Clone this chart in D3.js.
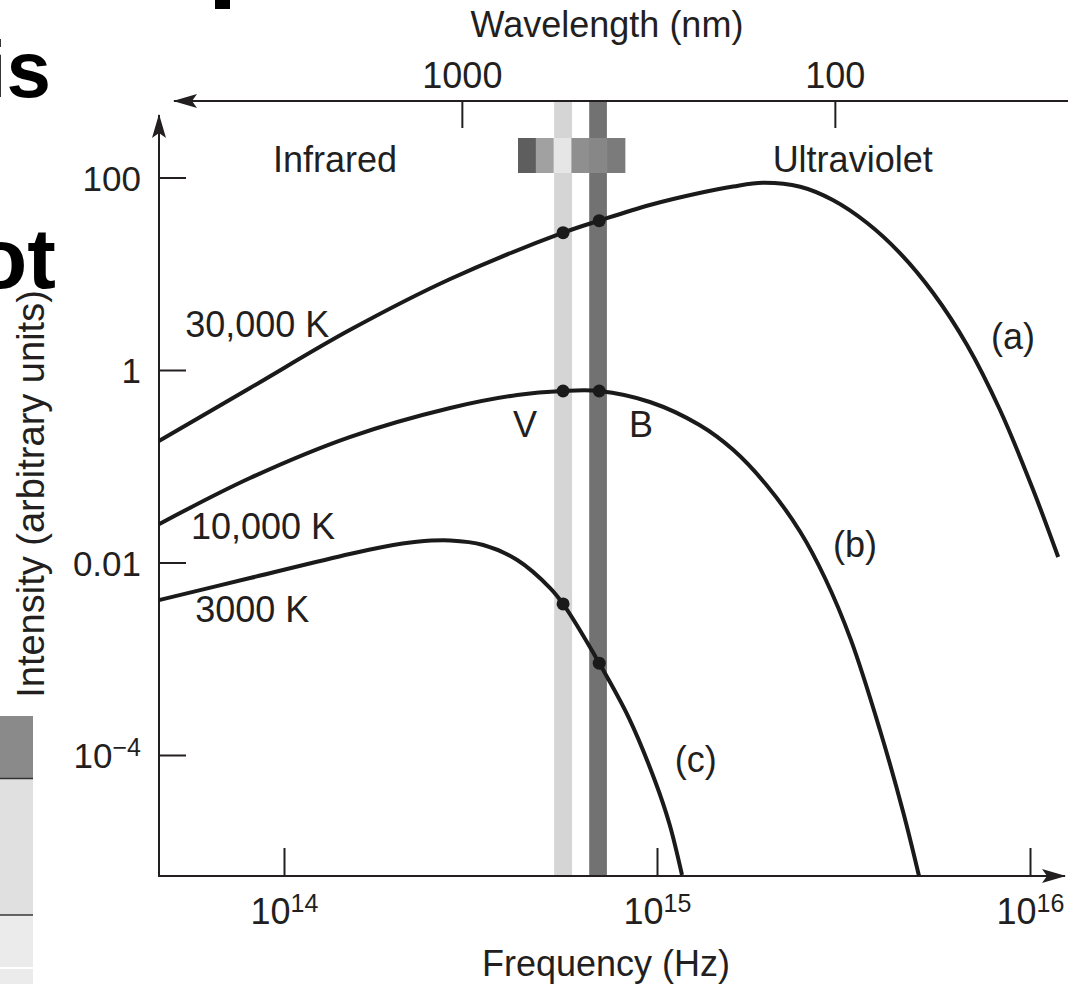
<!DOCTYPE html>
<html>
<head>
<meta charset="utf-8">
<script src="https://cdn.jsdelivr.net/npm/d3@7"></script>
<style>
  html, body { margin: 0; padding: 0; background: #fff; }
  svg { display: block; font-family: "Liberation Sans", Arial, Helvetica, sans-serif; }
</style>
</head>
<body>
<div id="chart"></div>
<script>
// frequencies in Hz, intensity in arbitrary units
const freqA = [4.62e13, 8.11e13, 1.50e14, 2.79e14, 5.60e14, 7.00e14, 9.57e14, 1.30e15, 1.60e15, 1.92e15, 2.42e15, 2.96e15, 3.66e15, 4.48e15, 5.50e15, 6.78e15, 8.31e15, 1.02e16, 1.19e16];
const intA  = [0.183, 0.65, 2.6, 8.82, 26.7, 35.6, 51.8, 69.0, 80.6, 88.1, 80.2, 58.4, 33.7, 16.4, 6.31, 1.82, 0.384, 0.0566, 0.0114];

const freqB = [4.62e13, 8.11e13, 1.50e14, 2.79e14, 4.22e14, 5.60e14, 7.00e14, 9.57e14, 1.30e15, 1.60e15, 1.97e15, 2.42e15, 2.82e15, 3.31e15, 3.96e15, 4.57e15, 5.04e15];
const intB  = [0.025, 0.0755, 0.201, 0.403, 0.55, 0.605, 0.605, 0.465, 0.268, 0.148, 0.0631, 0.0209, 6.9e-3, 1.57e-3, 1.82e-4, 2.56e-5, 5.53e-6];

const freqC = [4.62e13, 8.11e13, 1.50e14, 1.84e14, 2.27e14, 2.79e14, 3.42e14, 4.22e14, 5.17e14, 5.60e14, 7.00e14, 8.41e14, 9.88e14, 1.08e15, 1.167e15];
const intC  = [4.07e-3, 6.9e-3, 0.01226, 0.01449, 0.0164, 0.01693, 0.0152, 0.01062, 5.43e-3, 3.71e-3, 9.0e-4, 2.42e-4, 5.37e-5, 1.92e-5, 5.66e-6];

// V and B filter bands (Hz) and the points marked on each curve
const bandFreq = [5.6e14, 7.0e14];
const bandEdges = [[5.30e14, 5.92e14], [6.58e14, 7.34e14]];
const dotsA = [26.7, 35.6];
const dotsB = [0.605, 0.605];
const dotsC = [3.71e-3, 9.0e-4];

// little visible-spectrum strip (Hz)
const specEdges = [4.24e14, 8.2e14];
const specGrays = ["#5e5e5e", "#a1a1a1", "#e6e6e6", "#8f8f8f", "#878787", "#7b7b7b"];

const freqTicks = [1e14, 1e15, 1e16];
const freqTickExp = ["14", "15", "16"];
const intTicks = [1e-4, 0.01, 1, 100];
const wlTicks = [1000, 100];

const C_NM = 2.998e17; // speed of light in nm/s

const curves = [
    {freq: freqA, val: intA, dots: dotsA, name: "30,000 K", tag: "(a)", nameAt: [5.5e13, 2.2], tagAt: [7.96e15, 1.65]},
    {freq: freqB, val: intB, dots: dotsB, name: "10,000 K", tag: "(b)", nameAt: [5.7e13, 0.01754], tagAt: [3.0e15, 0.0114]},
    {freq: freqC, val: intC, dots: dotsC, name: "3000 K", tag: "(c)", nameAt: [5.85e13, 2.41e-3], tagAt: [1.13e15, 6.65e-5]}
];

const W = 1082, H = 984;
const ink = "#231f20";
const frame = {left: 159, bottom: 876, right: 1065, top: 115, wlY: 101, wlLeft: 174, wlRight: 1068};

const x = d3.scaleLog().domain([1e14, 1e16]).range([284, 1030]);
const y = d3.scaleLog().domain([1e-4, 100]).range([755, 177.5]);
const xw = d3.scaleLog().domain([1000, 100]).range([x(C_NM / 1000), x(C_NM / 100)]);

const svg = d3.select("#chart").append("svg")
    .attr("width", W)
    .attr("height", H)
    .attr("viewBox", [0, 0, W, H]);

svg.append("rect").attr("width", W).attr("height", H).attr("fill", "#fff");

svg.append("defs").append("marker")
    .attr("id", "arrow")
    .attr("viewBox", "0 0 24 14")
    .attr("refX", 23)
    .attr("refY", 7)
    .attr("markerWidth", 24)
    .attr("markerHeight", 14)
    .attr("markerUnits", "userSpaceOnUse")
    .attr("orient", "auto")
    .append("path")
    .attr("d", "M0,0 L24,7 L0,14 L5,7 Z")
    .attr("fill", ink);

// bits of the slide behind the figure (cropped at the left edge)
const slide = svg.append("g").attr("fill", "#000").attr("font-weight", "bold").attr("font-size", 80);
slide.append("text").attr("x", 51).attr("y", 97).attr("text-anchor", "end").text("is");
slide.append("text").attr("x", 56).attr("y", 288).attr("font-size", 86).attr("text-anchor", "end").text("ot");
slide.append("rect").attr("x", 215).attr("y", 0).attr("width", 15).attr("height", 9);
const tbl = svg.append("g");
tbl.append("rect").attr("x", 0).attr("y", 716).attr("width", 33).attr("height", 62).attr("fill", "#8a8a8a");
tbl.append("rect").attr("x", 0).attr("y", 779).attr("width", 33).attr("height", 136).attr("fill", "#e0e0e0");
tbl.append("rect").attr("x", 0).attr("y", 916).attr("width", 33).attr("height", 51).attr("fill", "#ebebeb");
tbl.append("rect").attr("x", 0).attr("y", 969).attr("width", 33).attr("height", 15).attr("fill", "#ebebeb");
tbl.append("line").attr("x1", 0).attr("x2", 33).attr("y1", 778.5).attr("y2", 778.5).attr("stroke", "#333").attr("stroke-width", 1.5);
tbl.append("line").attr("x1", 0).attr("x2", 33).attr("y1", 915).attr("y2", 915).attr("stroke", "#333").attr("stroke-width", 1.5);

// V and B bands
svg.append("g")
    .selectAll("rect")
    .data(bandEdges)
    .join("rect")
    .attr("x", d => x(d[0]))
    .attr("width", d => x(d[1]) - x(d[0]))
    .attr("y", frame.wlY)
    .attr("height", frame.bottom - frame.wlY)
    .attr("fill", (d, i) => i === 0 ? "#d5d5d5" : "#727272");

// spectrum strip, cells equal in log frequency
const cellEdge = i => specEdges[0] * Math.pow(specEdges[1] / specEdges[0], i / specGrays.length);
svg.append("g")
    .selectAll("rect")
    .data(specGrays)
    .join("rect")
    .attr("x", (d, i) => x(cellEdge(i)))
    .attr("width", (d, i) => x(cellEdge(i + 1)) - x(cellEdge(i)) + 0.5)
    .attr("y", 138)
    .attr("height", 35)
    .attr("fill", d => d);

// axes
const axisG = svg.append("g").attr("stroke", ink).attr("stroke-width", 2).attr("fill", "none");
axisG.append("line")
    .attr("x1", frame.left).attr("y1", frame.bottom)
    .attr("x2", frame.right).attr("y2", frame.bottom)
    .attr("marker-end", "url(#arrow)");
axisG.append("line")
    .attr("x1", frame.left).attr("y1", frame.bottom + 1)
    .attr("x2", frame.left).attr("y2", frame.top)
    .attr("marker-end", "url(#arrow)");
axisG.append("line")
    .attr("x1", frame.wlRight).attr("y1", frame.wlY)
    .attr("x2", frame.wlLeft).attr("y2", frame.wlY)
    .attr("marker-end", "url(#arrow)");

function styleAxis(g) {
    g.select(".domain").remove();
    g.selectAll(".tick line").attr("stroke", ink).attr("stroke-width", 2);
    g.selectAll(".tick text").attr("fill", ink).attr("font-size", 35);
}

// frequency axis
const xAxis = svg.append("g")
    .attr("transform", `translate(0,${frame.bottom})`)
    .call(d3.axisBottom(x).tickValues(freqTicks).tickSizeInner(-28).tickSizeOuter(0).tickPadding(0).tickFormat(""))
    .call(styleAxis);
xAxis.selectAll(".tick text").remove();
const xLab = xAxis.selectAll(".tick")
    .append("text")
    .attr("y", 48)
    .attr("text-anchor", "middle")
    .attr("fill", ink)
    .attr("font-size", 36);
xLab.append("tspan").text("10");
xLab.append("tspan").attr("font-size", 25).attr("dy", -12).text((d, i) => freqTickExp[i]);

// intensity axis
const yAxis = svg.append("g")
    .attr("transform", `translate(${frame.left},0)`)
    .call(d3.axisLeft(y).tickValues(intTicks).tickSizeInner(-27).tickSizeOuter(0).tickPadding(18)
        .tickFormat(d => d >= 1 ? d3.format("d")(d) : d === 0.01 ? "0.01" : ""))
    .call(styleAxis);
yAxis.selectAll(".tick text").attr("dy", "0.36em");
yAxis.selectAll(".tick")
    .filter(d => d === 1e-4)
    .select("text")
    .call(t => {
        t.append("tspan").text("10");
        t.append("tspan").attr("font-size", 25).attr("dy", -12).text("\u22124");
    });

// wavelength axis
svg.append("g")
    .attr("transform", `translate(0,${frame.wlY})`)
    .call(d3.axisTop(xw).tickValues(wlTicks).tickSizeInner(-27).tickSizeOuter(0).tickPadding(13).tickFormat(d3.format("d")))
    .call(styleAxis)
    .selectAll(".tick text").attr("dy", 0).attr("font-size", 36);

// titles
const titles = svg.append("g").attr("fill", ink).attr("font-size", 36).attr("text-anchor", "middle");
titles.append("text").attr("x", 607).attr("y", 37).text("Wavelength (nm)");
titles.append("text").attr("x", 606).attr("y", 976).text("Frequency (Hz)");
titles.append("text")
    .attr("transform", "translate(44,494) rotate(-90)")
    .attr("font-size", 38)
    .text("Intensity (arbitrary units)");

// region labels
const regions = svg.append("g").attr("fill", ink).attr("font-size", 36);
regions.append("text").attr("x", x(9.46e13) - 2).attr("y", y(114)).text("Infrared");
regions.append("text").attr("x", x(2.08e15) - 3).attr("y", y(114)).text("Ultraviolet");

// curves
const line = d3.line()
    .x(d => x(d[0]))
    .y(d => y(d[1]))
    .curve(d3.curveCatmullRom.alpha(0.5));

svg.append("g")
    .attr("fill", "none")
    .attr("stroke", "#1a1a1a")
    .attr("stroke-width", 4)
    .attr("stroke-linejoin", "round")
    .selectAll("path")
    .data(curves)
    .join("path")
    .attr("d", c => line(c.freq.map((f, i) => [f, c.val[i]])));

svg.append("g")
    .attr("fill", "#1a1a1a")
    .selectAll("circle")
    .data(curves.flatMap(c => c.dots.map((v, i) => [bandFreq[i], v])))
    .join("circle")
    .attr("cx", d => x(d[0]))
    .attr("cy", d => y(d[1]))
    .attr("r", 6.5);

const labels = svg.append("g").attr("fill", ink).attr("font-size", 36);
labels.selectAll(".name")
    .data(curves)
    .join("text")
    .attr("class", "name")
    .attr("x", c => x(c.nameAt[0]) - 2)
    .attr("y", c => y(c.nameAt[1]))
    .text(c => c.name);
labels.selectAll(".tag")
    .data(curves)
    .join("text")
    .attr("class", "tag")
    .attr("x", c => x(c.tagAt[0]) - 2)
    .attr("y", c => y(c.tagAt[1]))
    .text(c => c.tag);

labels.append("text").attr("x", x(4.16e14) - 2).attr("y", y(0.201)).text("V");
labels.append("text").attr("x", x(8.57e14) - 3).attr("y", y(0.201)).text("B");
</script>
</body>
</html>
